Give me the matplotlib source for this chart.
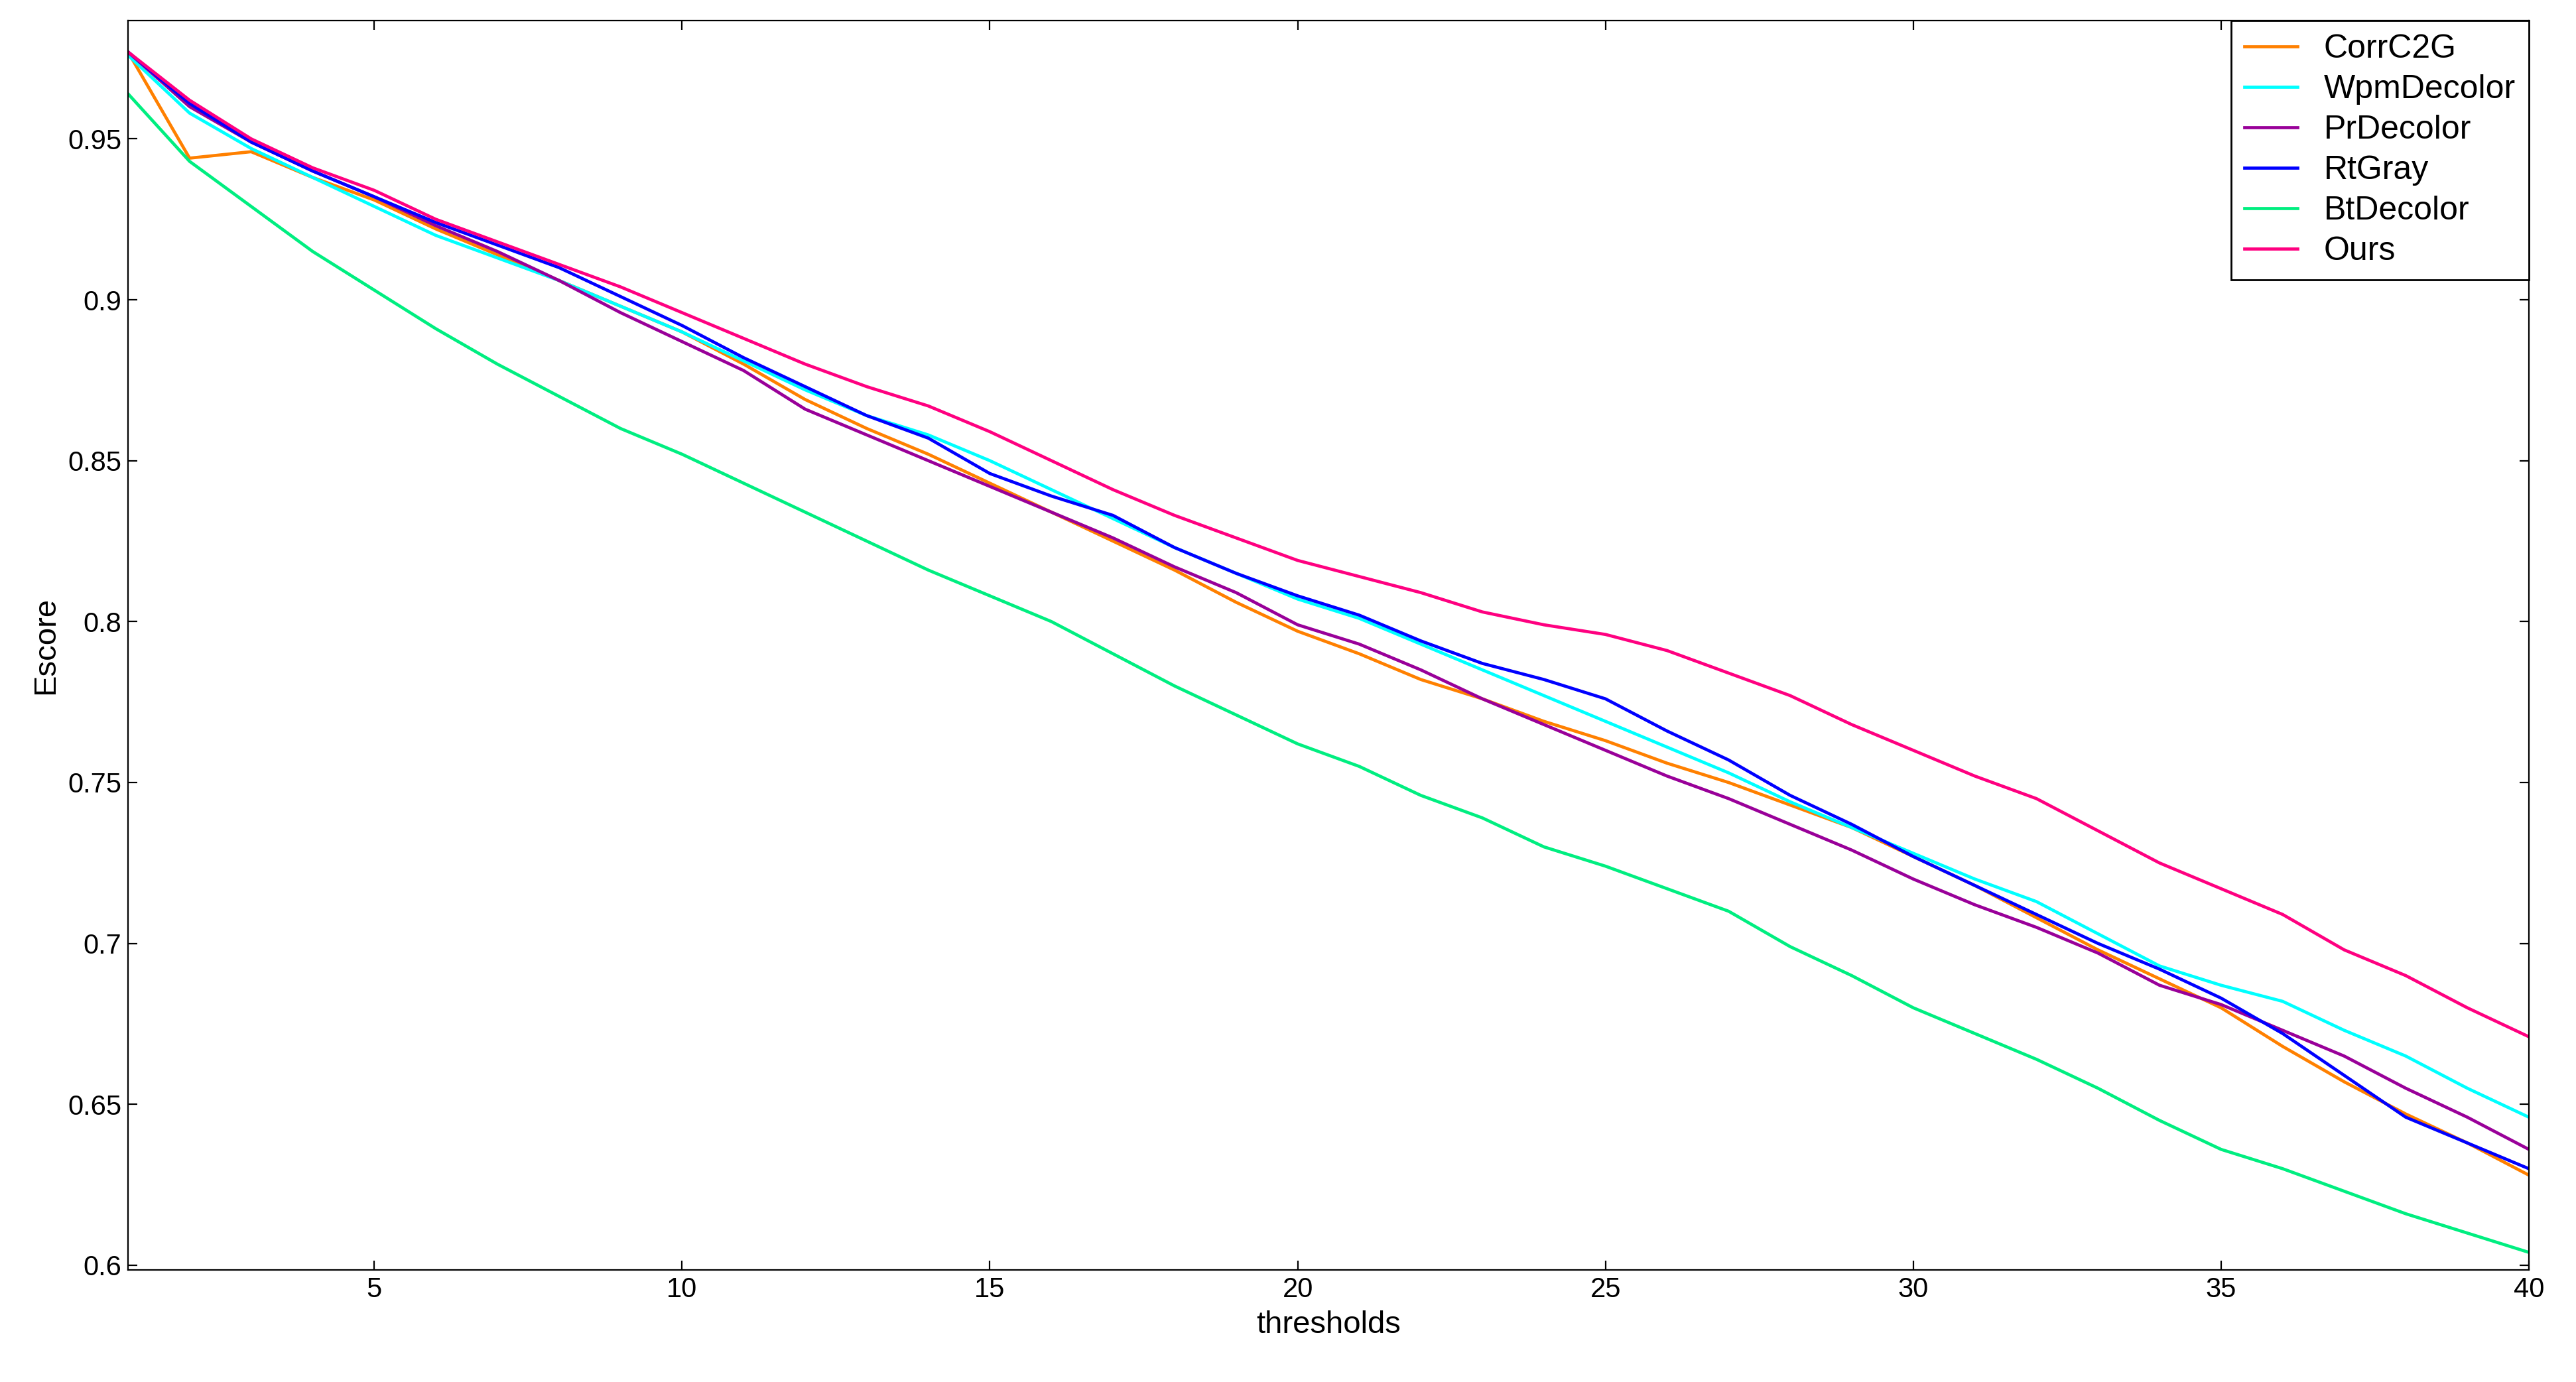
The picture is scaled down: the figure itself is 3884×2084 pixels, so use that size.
import matplotlib.pyplot as plt
import numpy as np

plt.rcParams['font.family'] = ['Liberation Sans', 'DejaVu Sans']

thresholds = np.arange(1, 41)

corrc2g = [0.977, 0.944, 0.946, 0.938, 0.931, 0.922, 0.914, 0.906, 0.898, 0.890,
           0.880, 0.869, 0.860, 0.852, 0.843, 0.834, 0.825, 0.816, 0.806, 0.797,
           0.790, 0.782, 0.776, 0.769, 0.763, 0.756, 0.750, 0.743, 0.736, 0.727,
           0.718, 0.708, 0.698, 0.689, 0.680, 0.668, 0.657, 0.647, 0.638, 0.628]
wpm = [0.976, 0.958, 0.947, 0.938, 0.929, 0.920, 0.913, 0.906, 0.898, 0.890,
       0.881, 0.872, 0.864, 0.858, 0.850, 0.841, 0.832, 0.823, 0.815, 0.807,
       0.801, 0.793, 0.785, 0.777, 0.769, 0.761, 0.753, 0.744, 0.736, 0.728,
       0.720, 0.713, 0.703, 0.693, 0.687, 0.682, 0.673, 0.665, 0.655, 0.646]
pr = [0.977, 0.960, 0.949, 0.940, 0.932, 0.923, 0.915, 0.906, 0.896, 0.887,
      0.878, 0.866, 0.858, 0.850, 0.842, 0.834, 0.826, 0.817, 0.809, 0.799,
      0.793, 0.785, 0.776, 0.768, 0.760, 0.752, 0.745, 0.737, 0.729, 0.720,
      0.712, 0.705, 0.697, 0.687, 0.681, 0.673, 0.665, 0.655, 0.646, 0.636]
rtgray = [0.977, 0.961, 0.949, 0.940, 0.932, 0.924, 0.917, 0.910, 0.901, 0.892,
          0.882, 0.873, 0.864, 0.857, 0.846, 0.839, 0.833, 0.823, 0.815, 0.808,
          0.802, 0.794, 0.787, 0.782, 0.776, 0.766, 0.757, 0.746, 0.737, 0.727,
          0.718, 0.709, 0.700, 0.692, 0.683, 0.672, 0.659, 0.646, 0.638, 0.630]
bt = [0.964, 0.943, 0.929, 0.915, 0.903, 0.891, 0.880, 0.870, 0.860, 0.852,
      0.843, 0.834, 0.825, 0.816, 0.808, 0.800, 0.790, 0.780, 0.771, 0.762,
      0.755, 0.746, 0.739, 0.730, 0.724, 0.717, 0.710, 0.699, 0.690, 0.680,
      0.672, 0.664, 0.655, 0.645, 0.636, 0.630, 0.623, 0.616, 0.610, 0.604]
ours = [0.977, 0.962, 0.950, 0.941, 0.934, 0.925, 0.918, 0.911, 0.904, 0.896,
        0.888, 0.880, 0.873, 0.867, 0.859, 0.850, 0.841, 0.833, 0.826, 0.819,
        0.814, 0.809, 0.803, 0.799, 0.796, 0.791, 0.784, 0.777, 0.768, 0.760,
        0.752, 0.745, 0.735, 0.725, 0.717, 0.709, 0.698, 0.690, 0.680, 0.671]

names = ['CorrC2G', 'WpmDecolor', 'PrDecolor', 'RtGray', 'BtDecolor', 'Ours']
series = [corrc2g, wpm, pr, rtgray, bt, ours]
colors = ['#ff8000', '#00ffff', '#990099', '#0000ff', '#00ee80', '#ff0080']

fig = plt.figure(figsize=(19.42, 10.42), dpi=200)
ax = fig.add_axes([0.0497, 0.081, 0.932, 0.904])
for vals, name, c in zip(series, names, colors):
    ax.plot(thresholds, vals, color=c, lw=1.7, label=name)

ax.set_xlim(1, 40)
ax.set_ylim(0.5985, 0.9867)
ax.set_xticks([5, 10, 15, 20, 25, 30, 35, 40])
ax.set_yticks([0.6, 0.65, 0.7, 0.75, 0.8, 0.85, 0.9, 0.95])
ax.set_yticklabels(['0.6', '0.65', '0.7', '0.75', '0.8', '0.85', '0.9', '0.95'])
ax.tick_params(labelsize=15, direction='in', length=5, top=True, right=True)
ax.set_xlabel('thresholds', fontsize=17)
ax.set_ylabel('Escore', fontsize=17)
ax.legend(loc='upper right', fontsize=18, fancybox=False, edgecolor='black',
          framealpha=1, borderaxespad=0.0, handlelength=1.6, labelspacing=0.3)

fig.savefig('out.png')
